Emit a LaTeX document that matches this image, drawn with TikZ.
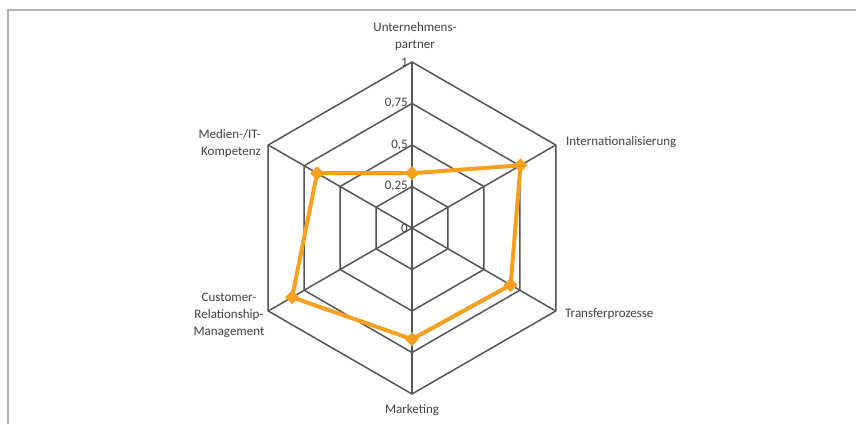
\documentclass[tikz,border=0pt]{standalone}
\usepackage{fontspec}
\setmainfont{Carlito}
\usetikzlibrary{positioning, calc}

\definecolor{seriesorange}{RGB}{247,160,30}
\definecolor{gridgray}{RGB}{85,85,85}
\definecolor{framegray}{RGB}{180,180,180}
\definecolor{textgray}{RGB}{64,64,64}

\begin{document}
\begin{tikzpicture}[x=1pt, y=1pt,
    grid/.style={gridgray, line width=1.5pt},
    series/.style={seriesorange, line width=4pt, line join=round},
    axislabel/.style={textgray, font=\fontsize{13}{17}\selectfont, inner sep=0pt},
    ticklabel/.style={textgray, font=\fontsize{13}{15}\selectfont, inner sep=0pt, anchor=east}]

\def\R{166}
\coordinate (c) at (412,196);

% Bounding box
\useasboundingbox (0,0) rectangle (856,424);

% Frame
\draw[framegray, line width=2.5pt] (8,0) -- (8,414) -- (856,414);

% Grid
\foreach \r in {0.25,0.5,0.75,1} {
    \draw[grid] ($(c)+(90:\r*\R)$) -- ($(c)+(30:\r*\R)$) -- ($(c)+(-30:\r*\R)$)
        -- ($(c)+(-90:\r*\R)$) -- ($(c)+(210:\r*\R)$) -- ($(c)+(150:\r*\R)$) -- cycle;
}

% Spokes
\foreach \a in {90,30,-30,-90,210,150} {
    \draw[grid] (c) -- ($(c)+(\a:\R)$);
}

% Tick labels
\foreach \r/\t in {0/0,0.25/{0,25},0.5/{0,5},0.75/{0,75},1/1} {
    \node[ticklabel] at ($(c)+(-4,\r*\R)$) {\t};
}

% Series
\draw[series] ($(c)+(90:0.33*\R)$) -- ($(c)+(30:0.755*\R)$) -- ($(c)+(-30:0.686*\R)$)
    -- ($(c)+(-90:0.67*\R)$) -- ($(c)+(210:0.834*\R)$) -- ($(c)+(150:0.66*\R)$) -- cycle;
\foreach \a/\v in {90/0.33,30/0.755,-30/0.686,-90/0.67,210/0.834,150/0.66} {
    \fill[seriesorange] ($(c)+(\a:\v*\R)$) +(0,7) -- +(7,0) -- +(0,-7) -- +(-7,0) -- cycle;
}

% Category labels
\node[axislabel, align=center] (partner) at (415,387) {Unternehmens-\\partner};
\node[axislabel, anchor=west] (intl) at (566,282) {Internationalisierung};
\node[axislabel, anchor=west] (transfer) at (565,110) {Transferprozesse};
\node[axislabel] (marketing) at (412,14) {Marketing};
\node[axislabel, align=center] (crm) at (229,109) {Customer-\\Relationship-\\Management};
\node[axislabel, align=right, anchor=east] (medien) at (261,280) {Medien-/IT-\\Kompetenz};

\end{tikzpicture}
\end{document}
